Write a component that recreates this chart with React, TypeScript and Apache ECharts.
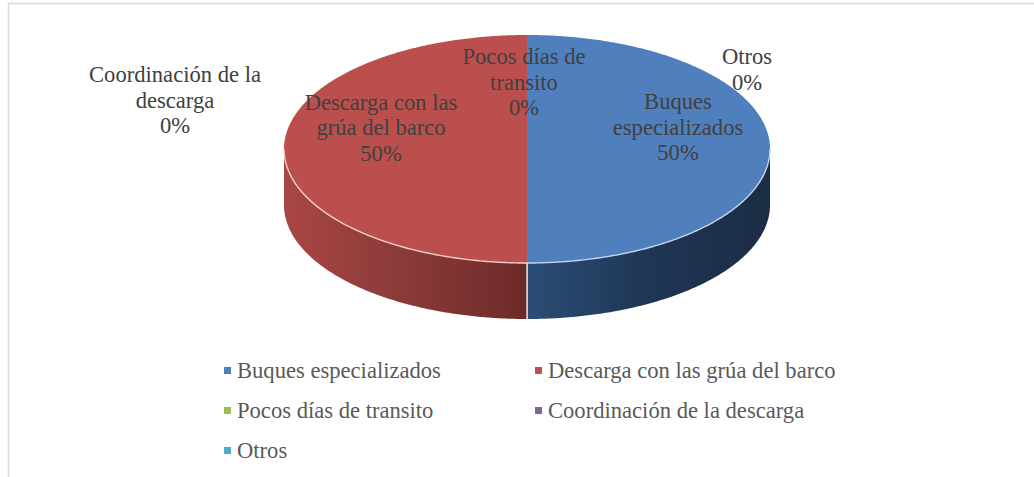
import React, { useEffect, useRef } from "react";
import * as echarts from "echarts";

const categories = [
  "Buques especializados",
  "Descarga con las grúa del barco",
  "Pocos días de transito",
  "Coordinación de la descarga",
  "Otros",
];
const values = [50, 50, 0, 0, 0];
const colors = ["#4f81bd", "#c0504d", "#9bbb59", "#8064a2", "#4bacc6"];
const topColors = ["#4f7fbd", "#bb4f4d", "#9bbb59", "#8064a2", "#4bacc6"];
const wallStops = [
  ["#2b4d75", "#1f3654", "#1b2d44"],
  ["#a94644", "#8a3a38", "#6c2a29"],
  ["#9bbb59", "#9bbb59", "#9bbb59"],
  ["#8064a2", "#8064a2", "#8064a2"],
  ["#4bacc6", "#4bacc6", "#4bacc6"],
];
const rimColors = ["#c4d4ea", "#f2cfcb", "#ffffff", "#ffffff", "#ffffff"];
const labelLines = [
  ["Buques", "especializados"],
  ["Descarga con las", "grúa del barco"],
  ["Pocos días de", "transito"],
  ["Coordinación de la", "descarga"],
  ["Otros"],
];

const CX = 527;
const CY = 149;
const RX = 243;
const RY = 114;
const DEPTH = 56;
const FONT = '"Liberation Serif", "Times New Roman", serif';
const FONT_SIZE = 22.6;
const labelAnchors = [
  [678, 89],
  [381, 89.5],
  [524, 44],
  [175, 62],
  [747, 44],
];
const legendSpots = [
  [224, 359],
  [535, 359],
  [224, 399],
  [535, 399],
  [224, 439],
];

const total = values.reduce((a, b) => a + b, 0);

function pt(deg: number, dy = 0): number[] {
  const a = (deg * Math.PI) / 180;
  return [CX + RX * Math.sin(a), CY - RY * Math.cos(a) + dy];
}
function arc(from: number, to: number, dy = 0): number[][] {
  const out: number[][] = [];
  const n = Math.max(1, Math.ceil((to - from) * 2));
  for (let i = 0; i <= n; i++) out.push(pt(from + ((to - from) * i) / n, dy));
  return out;
}

const makeRender = (index: number) => (_params: any, api: any) => {
  const v = api.value(0);
  const before = values.slice(0, index).reduce((a, b) => a + b, 0);
  const start = (before / total) * 360;
  const end = ((before + v) / total) * 360;
  const children: any[] = [];
  if (v > 0) {
    const wFrom = Math.max(start, 90);
    const wTo = Math.min(end, 270);
    if (wTo > wFrom) {
      const s = wallStops[index];
      children.push({
        type: "polygon",
        shape: { points: [...arc(wFrom, wTo), ...arc(wFrom, wTo, DEPTH).reverse()] },
        style: {
          fill: new echarts.graphic.LinearGradient(index === 0 ? 0 : 1, 0, index === 0 ? 1 : 0, 0, [
            { offset: 0, color: index === 0 ? s[0] : s[2] },
            { offset: 0.5, color: s[1] },
            { offset: 1, color: index === 0 ? s[2] : s[0] },
          ]),
        },
      });
    }
    children.push({
      type: "polygon",
      shape: { points: [[CX, CY], ...arc(start, end)] },
      style: { fill: topColors[index] },
    });
    if (wTo > wFrom) {
      children.push({
        type: "polyline",
        shape: { points: arc(wFrom, wTo) },
        style: { stroke: rimColors[index], lineWidth: 1.4, fill: "none" },
      });
    }
    if ((start > 90 && start < 270) || (end > 90 && end < 270)) {
      const edge = start > 90 && start < 270 ? start : end;
      const a = pt(edge);
      children.push({
        type: "line",
        shape: { x1: a[0], y1: a[1], x2: a[0], y2: a[1] + DEPTH },
        style: { stroke: "#e6dede", lineWidth: 1.4 },
      });
    }
  }
  const pct = `${Math.round((v / total) * 100)}%`;
  children.push({
    type: "text",
    x: labelAnchors[index][0],
    y: labelAnchors[index][1],
    z2: 100,
    style: {
      text: [...labelLines[index], pct].join("\n"),
      font: `${FONT_SIZE}px ${FONT}`,
      fill: "#404040",
      align: "center",
      verticalAlign: "top",
      lineHeight: 25.5,
    },
  });
  return { type: "group", children };
};

export default function App() {
  const ref = useRef<HTMLDivElement>(null);
  useEffect(() => {
    document.body.style.margin = "0";
    const chart = echarts.init(ref.current!, null, { renderer: "svg" });
    chart.setOption({
      animation: false,
      backgroundColor: "#ffffff",
      legend: categories.map((name, i) => ({
        data: [name],
        left: legendSpots[i][0],
        top: legendSpots[i][1],
        icon: "rect",
        itemWidth: 7,
        itemHeight: 7,
        itemGap: 0,
        padding: 0,
        selectedMode: false,
        textStyle: {
          fontFamily: FONT,
          fontSize: FONT_SIZE,
          color: "#595959",
          padding: [0, 0, 0, 1],
        },
      })),
      series: categories.map((name, i) => ({
        type: "custom",
        name,
        coordinateSystem: "none",
        silent: true,
        clip: false,
        itemStyle: { color: colors[i] },
        data: [[values[i]]],
        renderItem: makeRender(i),
      })),
      graphic: [
        {
          type: "polyline",
          z: -1,
          shape: { points: [[8.5, 477], [8.5, 3.5], [1034, 3.5]] },
          style: { stroke: "#d9d9d9", lineWidth: 1.5, fill: "none" },
        },
      ],
    });
    return () => chart.dispose();
  }, []);
  return <div ref={ref} style={{ position: "absolute", left: 0, top: 0, width: 1034, height: 477 }} />;
}
